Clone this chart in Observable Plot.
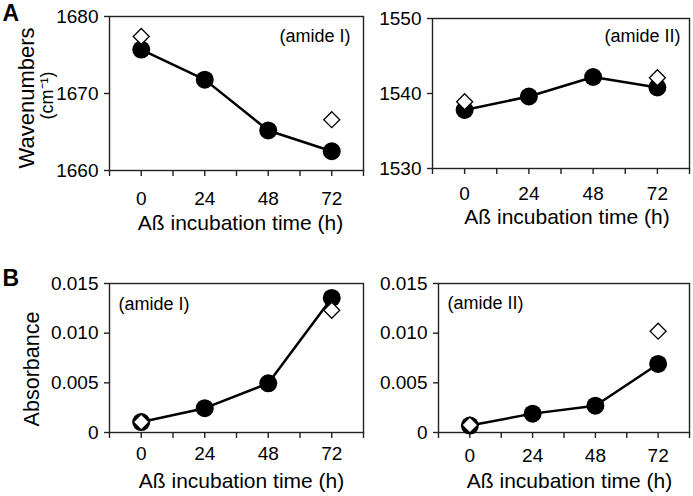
<!DOCTYPE html>
<html><head><meta charset="utf-8">
<script src="https://cdn.jsdelivr.net/npm/d3@7"></script>
<script src="https://cdn.jsdelivr.net/npm/@observablehq/plot@0.6"></script>
<style>
body{margin:0;background:#fff;}
#chart{position:relative;width:693px;height:496px;background:#fff;overflow:hidden;}
.panel{position:absolute;}
.panel svg{overflow:visible;}
</style></head><body><div id="chart"></div>
<script>
const times = [0, 24, 48, 72];
const openTimes = [0, 72];
const waveAmideI = [1675.7, 1671.8, 1665.2, 1662.5];
const waveAmideIOpen = [1677.4, 1666.6];
const waveAmideII = [1537.8, 1539.6, 1542.2, 1540.8];
const waveAmideIIOpen = [1538.9, 1542.1];
const absAmideI = [0.00105, 0.00245, 0.00495, 0.01355];
const absAmideIOpen = [0.00105, 0.0123];
const absAmideII = [0.0007, 0.0019, 0.0027, 0.0069];
const absAmideIIOpen = [0.00075, 0.0102];
const xTicks = [0, 24, 48, 72];
const xMinorTicks = [-12, 0, 12, 24, 36, 48, 60, 72, 84];
const waveTicksI = [1660, 1670, 1680];
const waveTicksII = [1530, 1540, 1550];
const absTicks = [0, 0.005, 0.010, 0.015];
const xLabel = "Aß incubation time (h)";
const FONT = '"Liberation Sans", Arial, Helvetica, sans-serif';

const panels = [
  {pos:[0,0,370,240], m:[109,7,16,70], y:[1660,1680], yTicks:waveTicksI, fmt:d=>String(d),
   filled:waveAmideI, open:waveAmideIOpen, tickOff:21, labDy:45, labDx:4,
   note:"(amide I)", noteAnchor:"top-right", noteDx:-13, noteDy:19.5,
   letter:"A", letterDy:4,
   ylabels:[{t:"Wavenumbers", dx:-76, dy:4.5, fs:22},{t:"(cm⁻¹)", dx:-57, dy:2, fs:18}]},
  {pos:[370,0,323,240], m:[62,4,18,72], y:[1530,1550], yTicks:waveTicksII, fmt:d=>String(d),
   filled:waveAmideII, open:waveAmideIIOpen, tickOff:18, labDy:41, labDx:6,
   note:"(amide II)", noteAnchor:"top-right", noteDx:-9, noteDy:17.5, ylabels:[]},
  {pos:[0,240,370,256], m:[109,7,43,64], y:[0,0.015], yTicks:absTicks, fmt:d=>d===0?"0":d.toFixed(3),
   filled:absAmideI, open:absAmideIOpen, tickOff:14, labDy:41, labDx:5,
   note:"(amide I)", noteAnchor:"top-left", noteDx:9, noteDy:20.5,
   letter:"B", letterDy:2,
   ylabels:[{t:"Absorbance", dx:-71, dy:11, fs:21.5}]},
  {pos:[370,240,323,256], m:[68,4,43,64], y:[0,0.015], yTicks:absTicks, fmt:d=>d===0?"0":d.toFixed(3),
   filled:absAmideII, open:absAmideIIOpen, tickOff:16, labDy:41, labDx:5.5,
   note:"(amide II)", noteAnchor:"top-left", noteDx:9, noteDy:19.5, ylabels:[]}
];

const chart = document.getElementById("chart");
for (const c of panels) {
  const filled = times.map((t,i)=>({t, v:c.filled[i]}));
  const open = openTimes.map((t,i)=>({t, v:c.open[i]}));
  const marks = [
    Plot.frame({stroke:"#222", strokeWidth:1.4}),
    Plot.axisX({ticks:xMinorTicks, tickSize:6, tickFormat:()=>"", label:null, stroke:"#222", strokeWidth:1.4}),
    Plot.axisX({ticks:xTicks, tickSize:0, tickPadding:c.tickOff, label:null, fontSize:19}),
    Plot.axisY({ticks:c.yTicks, tickSize:5, tickPadding:6, tickFormat:c.fmt, label:null, fontSize:19, stroke:"#222", strokeWidth:1.4}),
    Plot.line(filled, {x:"t", y:"v", stroke:"#000", strokeWidth:2.5}),
    Plot.dot(filled, {x:"t", y:"v", r:9, fill:"#000"}),
    Plot.dot(open, {x:"t", y:"v", symbol:"diamond2", r:7.2, fill:"#fff", stroke:"#000", strokeWidth:1.3}),
    Plot.text([c.note], {frameAnchor:c.noteAnchor, textAnchor:c.noteAnchor.endsWith("right")?"end":"start",
      lineAnchor:"middle", dx:c.noteDx, dy:c.noteDy, fontSize:18}),
    Plot.text([xLabel], {frameAnchor:"bottom", lineAnchor:"top", textAnchor:"middle", dx:c.labDx, dy:c.labDy, fontSize:21})
  ];
  for (const yl of c.ylabels) {
    marks.push(Plot.text([yl.t], {frameAnchor:"left", rotate:-90, lineAnchor:"bottom", textAnchor:"middle",
      dx:yl.dx, dy:yl.dy, fontSize:yl.fs}));
  }
  if (c.letter) {
    marks.push(Plot.text([c.letter], {frameAnchor:"top-left", textAnchor:"start", lineAnchor:"bottom",
      dx:2-c.m[0], dy:c.letterDy, fontSize:23, fontWeight:"bold"}));
  }
  const svg = Plot.plot({
    width:c.pos[2], height:c.pos[3],
    marginLeft:c.m[0], marginRight:c.m[1], marginTop:c.m[2], marginBottom:c.m[3],
    x:{domain:[-12,84]},
    y:{domain:c.y},
    style:{fontFamily:FONT, fontSize:"19px", color:"#000", background:"transparent", overflow:"visible"},
    marks
  });
  const div = document.createElement("div");
  div.className = "panel";
  div.style.left = c.pos[0]+"px"; div.style.top = c.pos[1]+"px";
  div.appendChild(svg);
  chart.appendChild(div);
}
</script></body></html>
